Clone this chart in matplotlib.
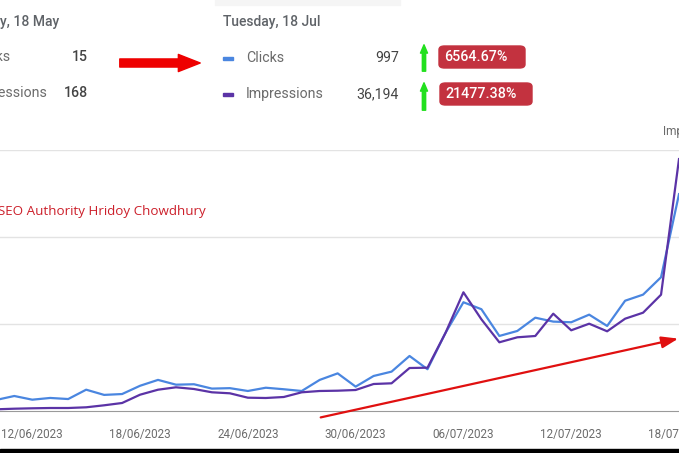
import matplotlib.pyplot as plt
from matplotlib.patches import FancyBboxPatch, Rectangle, FancyArrowPatch

# daily data, 10/06/2023 .. 18/07/2023
dates = ["10/06/2023", "11/06/2023", "12/06/2023", "13/06/2023", "14/06/2023", "15/06/2023",
         "16/06/2023", "17/06/2023", "18/06/2023", "19/06/2023", "20/06/2023", "21/06/2023",
         "22/06/2023", "23/06/2023", "24/06/2023", "25/06/2023", "26/06/2023", "27/06/2023",
         "28/06/2023", "29/06/2023", "30/06/2023", "01/07/2023", "02/07/2023", "03/07/2023",
         "04/07/2023", "05/07/2023", "06/07/2023", "07/07/2023", "08/07/2023", "09/07/2023",
         "10/07/2023", "11/07/2023", "12/07/2023", "13/07/2023", "14/07/2023", "15/07/2023",
         "16/07/2023", "17/07/2023", "18/07/2023"]
clicks = [51, 69, 52, 60, 55, 98, 74, 78, 116, 143, 121, 123, 103, 105, 92, 107, 100, 92,
          143, 173, 112, 161, 181, 253, 192, 359, 500, 468, 345, 368, 429, 411, 408, 443,
          391, 507, 535, 615, 997]
impressions = [244, 330, 388, 431, 431, 532, 819, 1149, 2342, 3060, 3405, 3161, 2687, 2543,
               1911, 1868, 2012, 2687, 2874, 2917, 3017, 3879, 3980, 6178, 6221, 11207, 17055,
               13175, 9871, 10589, 10776, 13980, 11595, 12543, 11451, 13262, 14124, 16710, 36194]
tick_idx = [2, 8, 14, 20, 26, 32, 38]

W, H = 679, 453
plt.rcParams['font.family'] = ['Roboto', 'DejaVu Sans']
fig = plt.figure(figsize=(W / 100, H / 100), dpi=100)
fig.patch.set_facecolor('white')


def fy(y):
    return H - y


ax = fig.add_axes([0, (H - 411) / H, 1, 261 / H])
ax2 = ax.twinx()
x = list(range(len(dates)))
ax.plot(x, clicks, color='#4a86e0', lw=1.6, zorder=3)
ax2.plot(x, impressions, color='#5b33a6', lw=1.6, zorder=3)
ax.set_ylim(0, 1200)
ax2.set_ylim(0, 37500)
ax.set_xlim(0.204, 37.72)
ax.set_yticks([400, 800, 1200])
ax.grid(axis='y', color='#e3e3e3', lw=1)
ax2.set_yticks([])
ax.set_xticks(tick_idx)
ax.set_xticklabels([dates[i] for i in tick_idx], color='#6b6b6b', fontsize=8.4)
ax.tick_params(axis='x', length=0, pad=12)
ax.tick_params(axis='y', length=0, labelleft=False)
for a in (ax, ax2):
    for s in a.spines.values():
        s.set_visible(False)
ax.spines['bottom'].set_visible(True)
ax.spines['bottom'].set_color('#9a9a9a')
ax.set_facecolor('none')

# faint edge of the tooltip card at the top
fig.patches.append(Rectangle((215 / W, fy(5) / H), 185 / W, 5 / H, color='#f5f5f5',
                             transform=fig.transFigure, zorder=0))

# header: earlier period (cut off at the left)
fig.text(59 / W, fy(22) / H, "Thursday, 18 May", ha='right', va='center', fontsize=10,
         color='#5f6368', fontweight='medium')
fig.text(10 / W, fy(57) / H, "Clicks", ha='right', va='center', fontsize=10.2, color='#6b6b6b')
fig.text(88 / W, fy(57) / H, "15", ha='right', va='center', fontsize=10.2, color='#444444',
         fontweight='medium')
fig.text(48 / W, fy(93) / H, "Impressions", ha='right', va='center', fontsize=10.2,
         color='#6b6b6b')
fig.text(88 / W, fy(93) / H, "168", ha='right', va='center', fontsize=10.2, color='#444444',
         fontweight='medium')

# header: current period
fig.text(223 / W, fy(22) / H, "Tuesday, 18 Jul", ha='left', va='center', fontsize=10,
         color='#5f6368', fontweight='medium')
fig.patches.append(Rectangle((223 / W, fy(60) / H), 10 / W, 3 / H, color='#4a86e0',
                             transform=fig.transFigure))
fig.patches.append(Rectangle((223 / W, fy(96) / H), 10 / W, 3 / H, color='#5b33a6',
                             transform=fig.transFigure))
fig.text(246 / W, fy(58) / H, "Clicks", ha='left', va='center', fontsize=10.2, color='#6b6b6b')
fig.text(246 / W, fy(94) / H, "Impressions", ha='left', va='center', fontsize=10.2,
         color='#6b6b6b')
fig.text(399 / W, fy(58) / H, "997", ha='right', va='center', fontsize=10.2, color='#444444')
fig.text(399 / W, fy(94) / H, "36,194", ha='right', va='center', fontsize=10.2, color='#444444')

# green up arrows
for y0, y1 in [(74, 42), (113, 80)]:
    fig.add_artist(FancyArrowPatch(
        (424 / W, fy(y0) / H), (424 / W, fy(y1) / H), transform=fig.transFigure,
        arrowstyle='simple,head_width=0.85,head_length=1.0,tail_width=0.4',
        mutation_scale=6, color='#22e01e'))

# red badges
for (bx, by, bw, txt) in [(439, 46, 86, '6564.67%'), (440, 83, 92, '21477.38%')]:
    fig.patches.append(FancyBboxPatch((bx / W, fy(by + 22) / H), bw / W, 22 / H,
                                      boxstyle='round,pad=0,rounding_size=0.008',
                                      color='#c3323f', transform=fig.transFigure))
    fig.text((bx + 5) / W, fy(by + 11) / H, txt, ha='left', va='center', fontsize=10.3,
             color='white', fontweight='medium')

# big red arrow
fig.add_artist(FancyArrowPatch(
    (117 / W, fy(63) / H), (203 / W, fy(63) / H), transform=fig.transFigure,
    arrowstyle='simple,head_width=1.65,head_length=2.1,tail_width=0.78',
    mutation_scale=7.5, color='#ee0000', capstyle='round'))

# trend arrow inside chart
fig.add_artist(FancyArrowPatch(
    (318 / W, fy(418) / H), (681 / W, fy(338) / H), transform=fig.transFigure,
    arrowstyle='-|>,head_width=0.35,head_length=1.0', mutation_scale=10,
    color='#e01010', lw=1.6))

# right axis title (cut off)
fig.text(663 / W, fy(132) / H, "Impressions", ha='left', va='center', fontsize=8.6,
         color='#6b6b6b')

# watermark
fig.text(-2 / W, fy(212) / H, "SEO Authority Hridoy Chowdhury", ha='left', va='center',
         fontsize=9.6, color='#cc1f2a', family=['Open Sans', 'DejaVu Sans'])

# dark strip at the bottom of the screenshot
fig.patches.append(Rectangle((0, 0), 1, 4 / H, color='black', transform=fig.transFigure))

fig.savefig('out.png', dpi=100)
